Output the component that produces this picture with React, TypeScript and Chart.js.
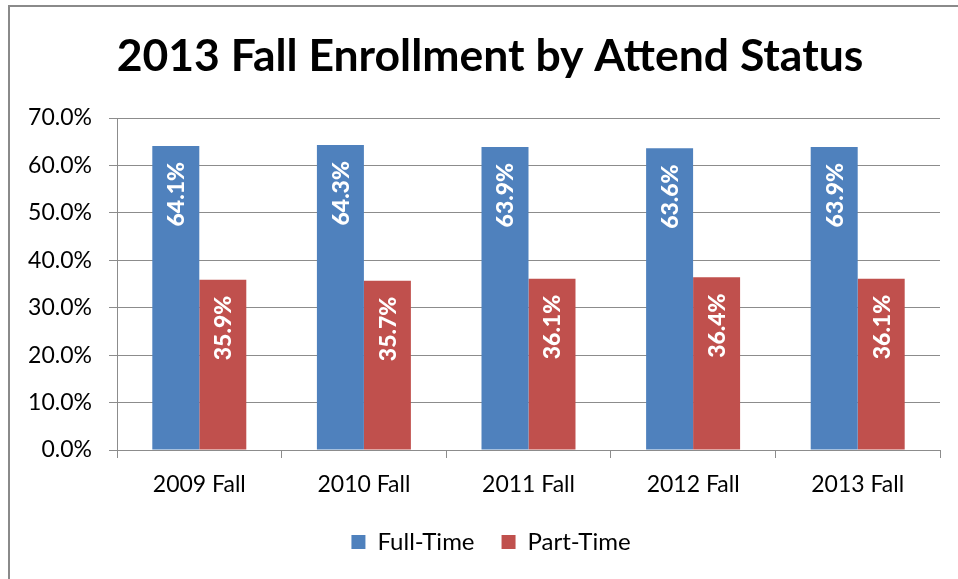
import React, { useEffect, useRef } from "react";
import { Chart, registerables } from "chart.js";

Chart.register(...registerables);

const categories = ["2009 Fall", "2010 Fall", "2011 Fall", "2012 Fall", "2013 Fall"];
const fullTime = [64.1, 64.3, 63.9, 63.6, 63.9];
const partTime = [35.9, 35.7, 36.1, 36.4, 36.1];
const yMin = 0;
const yMax = 70;
const yStep = 10;
const titleText = "2013 Fall Enrollment by Attend Status";

const barLabelPlugin = {
  id: "barLabels",
  afterDatasetsDraw(chart: any) {
    const ctx = chart.ctx;
    chart.data.datasets.forEach((ds: any, i: number) => {
      const meta = chart.getDatasetMeta(i);
      meta.data.forEach((bar: any, j: number) => {
        const { x, y } = bar.getProps(["x", "y"], true);
        ctx.save();
        ctx.translate(x + 1, y + 16);
        ctx.rotate(-Math.PI / 2);
        ctx.textAlign = "right";
        ctx.textBaseline = "middle";
        ctx.fillStyle = "#ffffff";
        ctx.font = "900 23px Lato";
        ctx.fillText(Number(ds.data[j]).toFixed(1) + "%", 0, 0);
        ctx.restore();
      });
    });
  },
};

const titlePlugin = {
  id: "customTitle",
  afterLayout(chart: any) {
    if (chart.legend) {
      chart.legend.left += 16;
      chart.legend.right += 16;
    }
  },
  afterDraw(chart: any) {
    const ctx = chart.ctx;
    ctx.save();
    ctx.font = "bold 44.5px Lato";
    ctx.fillStyle = "#000";
    ctx.textAlign = "center";
    ctx.textBaseline = "middle";
    ctx.fillText(titleText, 490, 57);
    ctx.restore();
  },
};

export default function App() {
  const ref = useRef<HTMLCanvasElement>(null);
  useEffect(() => {
    if (!ref.current) return;
    Chart.defaults.font.family = "Lato";
    const chart = new Chart(ref.current, {
      type: "bar",
      data: {
        labels: categories,
        datasets: [
          { label: "Full-Time", data: fullTime, backgroundColor: "#4F81BD", borderWidth: 0 },
          { label: "Part-Time", data: partTime, backgroundColor: "#C0504D", borderWidth: 0 },
        ],
      },
      options: {
        animation: false,
        responsive: false,
        maintainAspectRatio: false,
        layout: { padding: { left: 10, right: 18, top: 118, bottom: 15 } },
        datasets: { bar: { categoryPercentage: 0.571, barPercentage: 1 } },
        scales: {
          x: {
            grid: {
              offset: true,
              drawOnChartArea: false,
              drawTicks: true,
              tickLength: 8,
              color: "#8c8c8c",
            },
            border: { display: true, color: "#8c8c8c" },
            ticks: { color: "#000", font: { size: 23 }, padding: 13 },
            afterFit: (scale: any) => {
              scale.height = 53;
            },
          },
          y: {
            min: yMin,
            max: yMax,
            ticks: {
              stepSize: yStep,
              color: "#000",
              font: { size: 23 },
              padding: 17,
              callback: (v: any) => Number(v).toFixed(1) + "%",
            },
            grid: { color: "#8c8c8c", tickLength: 8 },
            border: { display: true, color: "#8c8c8c" },
            afterFit: (scale: any) => {
              scale.width = 107;
            },
          },
        },
        plugins: {
          title: { display: false },
          legend: {
            position: "bottom",
            labels: {
              color: "#000",
              font: { size: 24 },
              boxWidth: 14,
              boxHeight: 14,
              padding: 27,
            },
          },
          tooltip: { enabled: false },
        },
      },
      plugins: [barLabelPlugin, titlePlugin],
    } as any);
    return () => chart.destroy();
  }, []);

  return (
    <div style={{ position: "fixed", left: 0, top: 0, width: 958, height: 579, background: "#fff", overflow: "hidden" }}>
      <div
        style={{
          position: "absolute",
          left: 8,
          top: 5,
          right: -10,
          bottom: -10,
          borderLeft: "2px solid #8a8a8a",
          borderTop: "2px solid #8a8a8a",
        }}
      />
      <canvas ref={ref} width={958} height={579} style={{ position: "absolute", left: 0, top: 0 }} />
    </div>
  );
}
